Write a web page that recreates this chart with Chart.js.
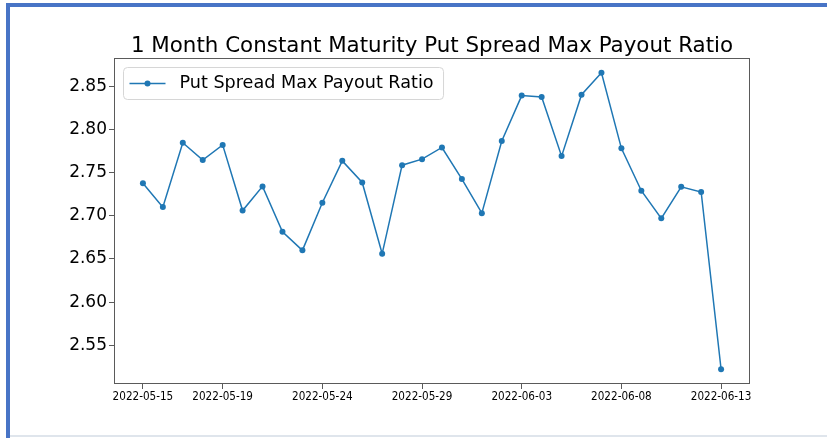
<!DOCTYPE html>
<html>
<head>
<meta charset="utf-8">
<script src="https://cdn.jsdelivr.net/npm/chart.js@4.4.0/dist/chart.umd.min.js"></script>
<style>
  html, body { margin: 0; padding: 0; background: #fff; }
  #wrap { position: relative; width: 827px; height: 438px; }
</style>
</head>
<body>
<div id="wrap"><canvas id="chart" width="827" height="438"></canvas></div>
<script>
const chartTitle = '1 Month Constant Maturity Put Spread Max Payout Ratio';
const seriesName = 'Put Spread Max Payout Ratio';

const dates = [
  '2022-05-15', '2022-05-16', '2022-05-17', '2022-05-18', '2022-05-19', '2022-05-20',
  '2022-05-21', '2022-05-22', '2022-05-23', '2022-05-24', '2022-05-25', '2022-05-26',
  '2022-05-27', '2022-05-28', '2022-05-29', '2022-05-30', '2022-05-31', '2022-06-01',
  '2022-06-02', '2022-06-03', '2022-06-04', '2022-06-05', '2022-06-06', '2022-06-07',
  '2022-06-08', '2022-06-09', '2022-06-10', '2022-06-11', '2022-06-12', '2022-06-13'
];
const ratios = [
  2.7375, 2.710, 2.7845, 2.7645, 2.782, 2.706,
  2.734, 2.6815, 2.660, 2.715, 2.7635, 2.7385,
  2.656, 2.7585, 2.7655, 2.779, 2.7425, 2.703,
  2.7865, 2.839, 2.8375, 2.769, 2.840, 2.8655,
  2.778, 2.729, 2.697, 2.7335, 2.7275, 2.5225
];
const xTickDates = ['2022-05-15', '2022-05-19', '2022-05-24', '2022-05-29', '2022-06-03', '2022-06-08', '2022-06-13'];
const yTicks = [2.55, 2.60, 2.65, 2.70, 2.75, 2.80, 2.85];

const lineBlue = '#1f77b4';
const axisGray = '#5a5a5a';

// page frame, title over the axes, axes box and matplotlib-like legend
const frameAndLegend = {
  id: 'frameAndLegend',
  beforeDraw(chart) {
    const ctx = chart.ctx;
    ctx.save();
    ctx.fillStyle = '#fff';
    ctx.fillRect(0, 0, chart.width, chart.height);
    ctx.fillStyle = '#4874c6';
    ctx.fillRect(6, 3, chart.width - 6, 4);
    ctx.fillRect(6, 3, 4, chart.height - 3);
    ctx.fillStyle = '#dfe5ec';
    ctx.fillRect(10, 435, chart.width - 10, 2);
    ctx.restore();
  },
  afterDraw(chart) {
    const ctx = chart.ctx;
    const a = chart.chartArea;
    ctx.save();

    // title centred on the axes
    ctx.fillStyle = '#000';
    ctx.font = '21.4px "DejaVu Sans"';
    ctx.textAlign = 'center';
    ctx.textBaseline = 'alphabetic';
    ctx.fillText(chartTitle, (a.left + a.right) / 2, 52);

    ctx.strokeStyle = axisGray;
    ctx.lineWidth = 1;
    ctx.strokeRect(Math.round(a.left) + 0.5, Math.round(a.top) + 0.5,
      Math.round(a.right - a.left) - 1, Math.round(a.bottom - a.top) - 1);

    // legend
    ctx.font = '17.6px "DejaVu Sans"';
    ctx.textAlign = 'left';
    const tw = ctx.measureText(seriesName).width;
    const bx = a.left + 9.5, by = a.top + 9.5;
    const bw = 58 + tw + 8, bh = 32;
    ctx.beginPath();
    ctx.roundRect(bx, by, bw, bh, 4);
    ctx.fillStyle = 'rgba(255,255,255,0.8)';
    ctx.fill();
    ctx.strokeStyle = '#d6d6d6';
    ctx.stroke();
    const ly = by + bh / 2;
    ctx.strokeStyle = lineBlue;
    ctx.lineWidth = 1.5;
    ctx.beginPath();
    ctx.moveTo(bx + 6, ly);
    ctx.lineTo(bx + 42, ly);
    ctx.stroke();
    ctx.fillStyle = lineBlue;
    ctx.beginPath();
    ctx.arc(bx + 24, ly, 3, 0, Math.PI * 2);
    ctx.fill();
    ctx.fillStyle = '#000';
    ctx.textBaseline = 'middle';
    ctx.fillText(seriesName, bx + 56, ly);
    ctx.restore();
  }
};

new Chart(document.getElementById('chart'), {
  type: 'line',
  data: {
    datasets: [{
      label: seriesName,
      data: ratios.map((v, i) => ({ x: i, y: v })),
      borderColor: lineBlue,
      backgroundColor: lineBlue,
      borderWidth: 1.5,
      pointRadius: 3,
      pointBorderWidth: 0,
      pointBackgroundColor: lineBlue,
      tension: 0
    }]
  },
  options: {
    responsive: false,
    animation: false,
    devicePixelRatio: 1,
    layout: { padding: { left: 0, right: 77, top: 58, bottom: 0 } },
    plugins: {
      legend: { display: false },
      tooltip: { enabled: false },
      title: { display: false }
    },
    scales: {
      x: {
        type: 'linear',
        min: -1.45,
        max: 30.45,
        afterFit: (s) => { s.height = 54; },
        afterBuildTicks: (s) => {
          s.ticks = xTickDates.map(d => ({ value: dates.indexOf(d) }));
        },
        ticks: {
          autoSkip: false,
          maxRotation: 0,
          padding: 1,
          color: '#000',
          font: { family: '"DejaVu Sans Condensed", "Noto Sans"', size: 11.6 },
          callback: (v) => dates[v]
        },
        grid: { display: true, drawOnChartArea: false, drawTicks: true, tickLength: 5, color: axisGray },
        border: { display: false }
      },
      y: {
        min: 2.5054,
        max: 2.8825,
        afterFit: (s) => { s.width = 114; },
        afterBuildTicks: (s) => {
          s.ticks = yTicks.map(v => ({ value: v }));
        },
        ticks: {
          padding: 2,
          color: '#000',
          font: { family: 'DejaVu Sans', size: 17 },
          callback: (v) => v.toFixed(2)
        },
        grid: { display: true, drawOnChartArea: false, drawTicks: true, tickLength: 5, color: axisGray },
        border: { display: false }
      }
    }
  },
  plugins: [frameAndLegend]
});
</script>
</body>
</html>
